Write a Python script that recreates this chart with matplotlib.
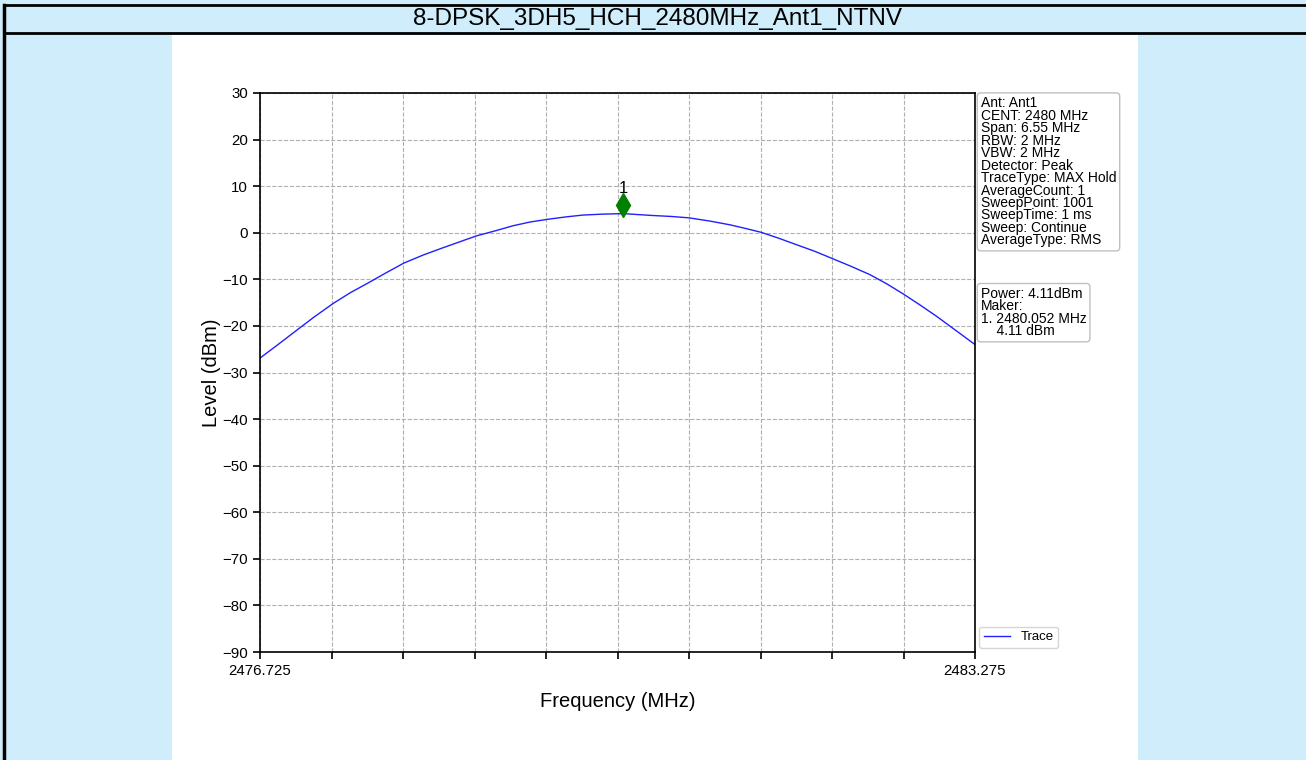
import matplotlib
matplotlib.use('Agg')
import matplotlib.pyplot as plt
from matplotlib.patches import Rectangle
from matplotlib.lines import Line2D
import numpy as np

plt.rcParams['font.family'] = ['Liberation Sans', 'DejaVu Sans']

# Trace values
freq = [2476.725, 2476.890, 2477.046, 2477.220, 2477.394, 2477.550, 2477.714,
        2477.880, 2478.044, 2478.218, 2478.392, 2478.548, 2478.704, 2478.878,
        2479.043, 2479.198, 2479.363, 2479.528, 2479.684, 2479.868, 2480.052,
        2480.188, 2480.325, 2480.490, 2480.655, 2480.848, 2481.031, 2481.177,
        2481.315, 2481.480, 2481.644, 2481.809, 2481.974, 2482.139, 2482.313,
        2482.469, 2482.615, 2482.771, 2482.927, 2483.101, 2483.275]
level = [-26.9, -24.0, -21.2, -18.1, -15.2, -12.9, -10.8,
         -8.6, -6.5, -4.8, -3.3, -2.0, -0.7, 0.4,
         1.5, 2.3, 2.9, 3.4, 3.8, 4.0, 4.11,
         3.9, 3.7, 3.5, 3.2, 2.5, 1.7, 0.9,
         0.1, -1.2, -2.6, -4.0, -5.6, -7.2, -9.0,
         -11.0, -13.1, -15.5, -18.0, -21.0, -24.0]

# Marker
marker_freq = 2480.052
marker_level = 6.0
marker_label = '1'

title = '8-DPSK_3DH5_HCH_2480MHz_Ant1_NTNV'
x_min, x_max = 2476.725, 2483.275
y_ticks = [30, 20, 10, 0, -10, -20, -30, -40, -50, -60, -70, -80, -90]

info_lines = ['Ant: Ant1', 'CENT: 2480 MHz', 'Span: 6.55 MHz', 'RBW: 2 MHz',
              'VBW: 2 MHz', 'Detector: Peak', 'TraceType: MAX Hold',
              'AverageCount: 1', 'SweepPoint: 1001', 'SweepTime: 1 ms',
              'Sweep: Continue', 'AverageType: RMS']
result_lines = ['Power: 4.11dBm', 'Maker:', '1. 2480.052 MHz', '    4.11 dBm']

W, H = 1306, 760
fig = plt.figure(figsize=(W / 100, H / 100), dpi=100, facecolor='#d0edfb')

# white page area and the title cell borders
fig.add_artist(Rectangle((172 / W, 0), 966 / W, 725 / H, transform=fig.transFigure,
                         facecolor='white', edgecolor='none', zorder=0))
for y in (5, 33):
    fig.add_artist(Line2D([4 / W, 1], [1 - y / H, 1 - y / H], transform=fig.transFigure,
                          color='black', lw=2))
fig.add_artist(Line2D([4 / W, 4 / W], [0, 1 - 5 / H], transform=fig.transFigure,
                      color='black', lw=2.5))
fig.text(658 / W, 1 - 19 / H, title, ha='center', va='center', fontsize=17.5)

ax = fig.add_axes([260 / W, 108 / H, 715 / W, 559 / H])
ax.plot(freq, level, color='#2020ff', lw=1, label='Trace')
ax.plot(marker_freq, marker_level, marker='d', color='green', markersize=12, ls='none')
ax.annotate(marker_label, (marker_freq, marker_level), xytext=(0, 6),
            textcoords='offset points', ha='center', va='bottom', fontsize=12)

ax.set_xlim(x_min, x_max)
ax.set_ylim(-90, 30)
xt = np.linspace(x_min, x_max, 11)
ax.set_xticks(xt)
ax.set_xticklabels([f'{x_min:.3f}'] + [''] * 9 + [f'{x_max:.3f}'])
ax.set_yticks(y_ticks)
ax.tick_params(labelsize=10.8, length=5, width=1.2)
ax.grid(True, ls='--', color='#b0b0b0', lw=0.8)
for s in ax.spines.values():
    s.set_linewidth(1.2)
ax.set_xlabel('Frequency (MHz)', fontsize=14.5, labelpad=10)
ax.set_ylabel('Level (dBm)', fontsize=14.5, labelpad=1)

box = dict(boxstyle='round,pad=0.25', facecolor='white', edgecolor='#c0c0c0')
ax.text(1.008, 0.994, '\n'.join(info_lines), transform=ax.transAxes, va='top',
        ha='left', fontsize=10, linespacing=0.86, bbox=box)
ax.text(1.008, 0.653, '\n'.join(result_lines), transform=ax.transAxes, va='top',
        ha='left', fontsize=10, linespacing=0.86, bbox=box)
ax.legend(loc='lower left', bbox_to_anchor=(1.0, 0.0), fontsize=9.5,
          handlelength=2.0, borderpad=0.35, borderaxespad=0.3)

fig.savefig('out.png', dpi=100, facecolor=fig.get_facecolor())
